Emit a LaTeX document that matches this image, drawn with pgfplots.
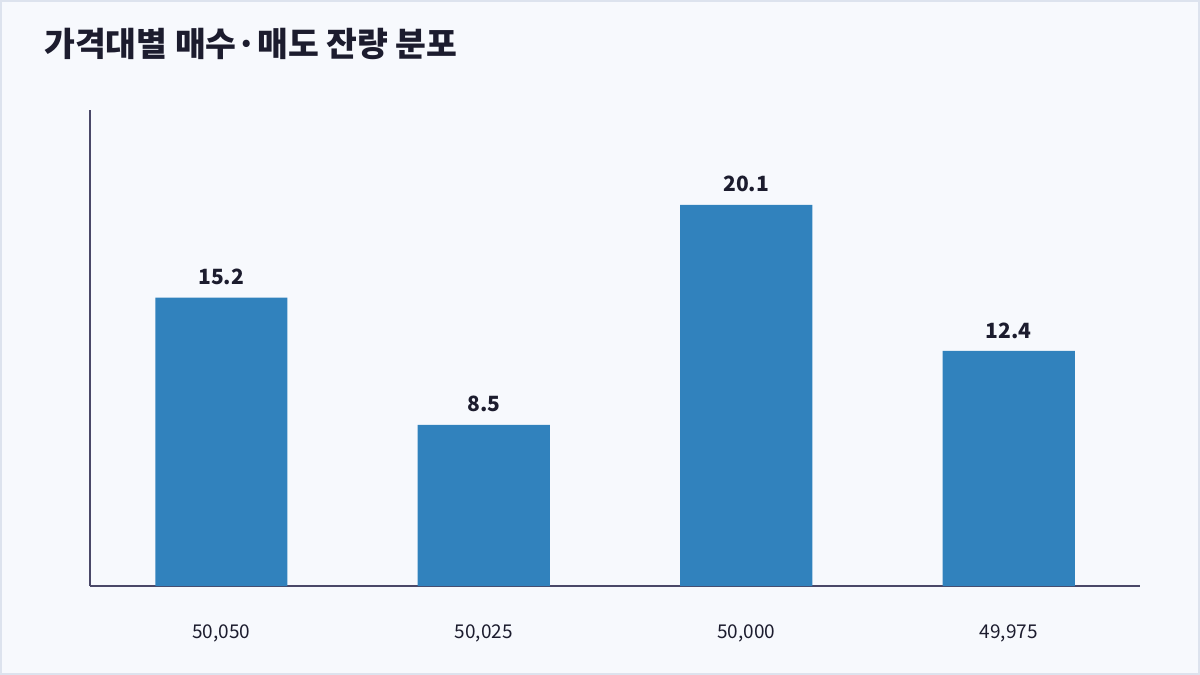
\documentclass[border=0pt]{standalone}
\usepackage{fontspec}
\setmainfont{Noto Sans CJK KR}
\usepackage{pgfplots}
\pgfplotsset{compat=1.18}
\definecolor{bg}{HTML}{F7F9FD}
\definecolor{frame}{HTML}{DDE3EE}
\definecolor{barblue}{HTML}{3182BD}
\definecolor{axisc}{HTML}{4A4868}
\definecolor{txt}{HTML}{1C1C2E}
\begin{document}
\begin{tikzpicture}[x=1pt,y=1pt]
  \fill[bg] (0,0) rectangle (1200,675);
  \draw[frame, line width=2pt] (1,1) rectangle (1199,674);
  \node[anchor=west, inner sep=0pt, text=txt, font=\fontsize{33.5}{40}\selectfont\bfseries] at (44,631) {가격대별 매수·매도 잔량 분포};
  \begin{axis}[
    at={(90pt,89pt)}, anchor=south west,
    scale only axis, width=1050pt, height=476pt,
    xmin=-0.5, xmax=3.5, ymin=0, ymax=25.1,
    axis lines=left,
    axis line style={draw=axisc, line width=1.5pt, -},
    xtick=data, ytick=\empty,
    xticklabels={{50,050},{50,025},{50,000},{49,975}},
    major tick length=0pt,
    xticklabel style={font=\fontsize{19}{22}\selectfont, text=txt, yshift=-35pt},
    clip=false,
    ybar, bar width=132pt,
    nodes near coords={\pgfmathprintnumber[fixed,fixed zerofill,precision=1,assume math mode=true]{\pgfplotspointmeta}},
    nodes near coords style={font=\fontsize{21}{25}\selectfont\bfseries, text=txt, anchor=south, yshift=9pt},
  ]
    \addplot[fill=barblue, draw=none] coordinates {(0,15.2) (1,8.5) (2,20.1) (3,12.4)};
  \end{axis}
\end{tikzpicture}
\end{document}
